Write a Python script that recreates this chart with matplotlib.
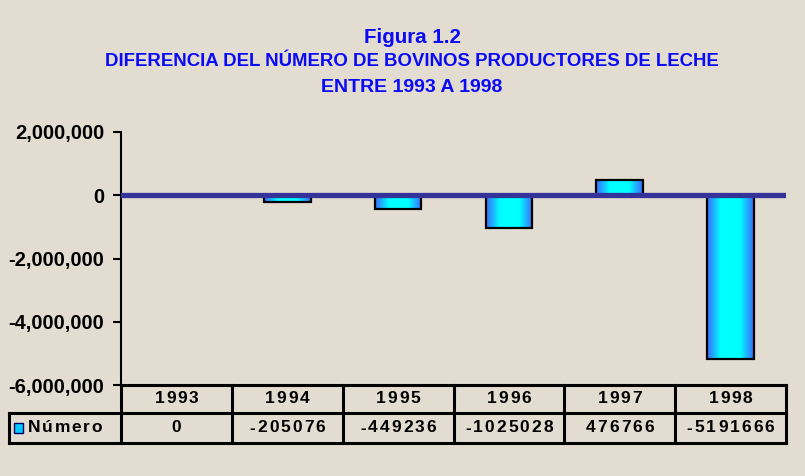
import numpy as np
import matplotlib
matplotlib.use('Agg')
import matplotlib.pyplot as plt
from matplotlib.colors import LinearSegmentedColormap
from matplotlib.ticker import FuncFormatter
from matplotlib.transforms import blended_transform_factory

plt.rcParams['font.family'] = ['Liberation Sans', 'DejaVu Sans']

years = ['1993', '1994', '1995', '1996', '1997', '1998']
numero = [0, -205076, -449236, -1025028, 476766, -5191666]
series_name = 'Número'
title_lines = ['Figura 1.2',
               'DIFERENCIA DEL NÚMERO DE BOVINOS PRODUCTORES DE LECHE',
               'ENTRE 1993 A 1998']

W, H = 805, 476
BG = '#e3dcd1'
TITLE_BLUE = '#0a0af5'

fig = plt.figure(figsize=(W / 100, H / 100), dpi=100, facecolor=BG)
renderer = fig.canvas.get_renderer()


def fx(px):
    return px / W


def fy(py):
    return 1 - py / H


def tracked_text(xc_px, yc, s, spacing, align='center', **kw):
    # draw string char by char with extra letter spacing (pixels)
    widths = []
    for ch in s:
        t = fig.text(0, 0, ch, **kw)
        widths.append(t.get_window_extent(renderer).width)
        t.remove()
    total = sum(widths) + spacing * (len(s) - 1)
    x = xc_px - total / 2 if align == 'center' else xc_px
    for ch, w in zip(s, widths):
        fig.text(fx(x), yc, ch, ha='left', va='center', **kw)
        x += w + spacing


ax = fig.add_axes([fx(121), fy(385), fx(786) - fx(121), fy(132) - fy(385)])
ax.set_facecolor('none')
ax.set_xlim(0, len(years))
ax.set_ylim(-6000000, 2000000)
ax.set_yticks([2000000, 0, -2000000, -4000000, -6000000])
ax.yaxis.set_major_formatter(FuncFormatter(lambda v, p: '{:,.0f}'.format(v)))
ax.tick_params(axis='y', labelsize=14.5, length=6, width=1.5, direction='out', pad=6)
for lab in ax.get_yticklabels():
    lab.set_fontweight('bold')
ax.set_xticks([])
for s in ['top', 'right', 'bottom']:
    ax.spines[s].set_visible(False)
ax.spines['left'].set_linewidth(1.5)

# bars with horizontal blue-cyan-blue gradient
cmap = LinearSegmentedColormap.from_list('bc', ['#3a6cff', '#00ffff'])
t = np.linspace(0, 1, 64)
grad = np.clip(1.7 * (1 - np.abs(2 * t - 1)), 0, 1)[None, :]
xs = np.arange(len(years)) + 0.5
bw = 0.42
bars = ax.bar(xs, numero, width=bw, facecolor='none', edgecolor='black',
              linewidth=1.6, zorder=3)
for b in bars:
    h = b.get_height()
    if h == 0:
        continue
    x0 = b.get_x()
    y0, y1 = sorted([0, h])
    im = ax.imshow(grad, cmap=cmap, aspect='auto', extent=[x0, x0 + bw, y0, y1],
                   zorder=2, interpolation='bilinear')
    im.set_clip_path(b)
ax.set_xlim(0, len(years))
ax.set_ylim(-6000000, 2000000)

ax.axhline(0, color='#333399', linewidth=3.8, zorder=4, solid_capstyle='round')

# titles
for txt, py, fs in zip(title_lines, [38, 62, 88], [14.8, 13.4, 14]):
    fig.text(fx(412), fy(py), txt, ha='center', va='center', color=TITLE_BLUE,
             fontsize=fs, fontweight='bold')

# data table under the axis
tr = blended_transform_factory(ax.transData, fig.transFigure)
row1_top, row1_bot, row2_bot = fy(385), fy(413), fy(443)
lw = 2.2
kw = dict(color='black', linewidth=lw, transform=tr, solid_capstyle='projecting')
fig.add_artist(plt.Line2D([0, 6], [row1_top, row1_top], **kw))
fig.add_artist(plt.Line2D([0, 6], [row1_bot, row1_bot], **kw))
for i in range(len(years) + 1):
    fig.add_artist(plt.Line2D([i, i], [row1_top, row2_bot], **kw))
kwf = dict(color='black', linewidth=lw, transform=fig.transFigure, solid_capstyle='projecting')
fig.add_artist(plt.Line2D([fx(9), fx(121)], [row1_bot, row1_bot], **kwf))
fig.add_artist(plt.Line2D([fx(9), fx(786)], [row2_bot, row2_bot], **kwf))
fig.add_artist(plt.Line2D([fx(9), fx(9)], [row1_bot, row2_bot], **kwf))

fkw = dict(fontsize=12.5, fontweight='bold')
for i, (yr, v) in enumerate(zip(years, numero)):
    xc = ax.transData.transform((i + 0.5, 0))[0]
    tracked_text(xc, (row1_top + row1_bot) / 2 + 0.002, yr, 1.8, **fkw)
    tracked_text(xc, (row1_bot + row2_bot) / 2, str(v), 2.0, **fkw)

fig.add_artist(plt.Rectangle((fx(14), fy(433)), fx(9), fy(423) - fy(433), transform=fig.transFigure,
                             facecolor='#00ccff', edgecolor='#000066', linewidth=1.0))
tracked_text(28, (row1_bot + row2_bot) / 2, series_name, 1.6, align='left', **fkw)

fig.savefig('out.png', dpi=100, facecolor=BG)
